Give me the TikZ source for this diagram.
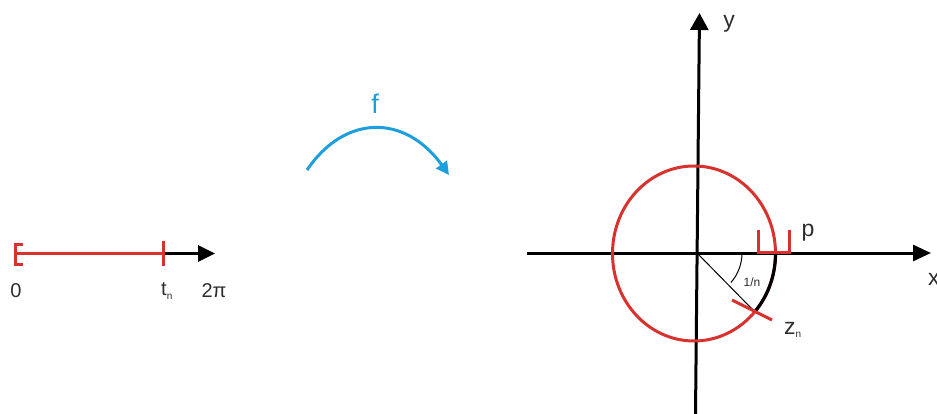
\documentclass[tikz,border=0pt]{standalone}
\usepackage{fontspec}
\setmainfont{Liberation Sans}
\usetikzlibrary{arrows.meta}
\definecolor{myred}{RGB}{215,50,45}
\definecolor{myblue}{RGB}{30,158,220}
\definecolor{txt}{RGB}{45,45,45}
\begin{document}
\begin{tikzpicture}[x=1pt,y=-1pt,
  axis/.style={line width=3pt,black,-{Triangle[length=17pt,width=16pt]}},
  redline/.style={line width=3pt,myred},
  lbl/.style={inner sep=0pt,text=txt,font=\fontsize{20}{20}\selectfont},
  big/.style={inner sep=0pt,text=txt,font=\fontsize{23}{23}\selectfont}]
\useasboundingbox (0,0) rectangle (937,414);
% left interval
\coordinate (a0) at (15,253.5);
\coordinate (tn) at (163,253.5);
\coordinate (ae) at (215,253.5);
\draw[axis] (tn) -- (ae);
\draw[redline] (a0) -- (tn);
\draw[redline] (23,244.5) -- (15,244.5) -- (15,264) -- (23,264);
\draw[redline] (163,241) -- (163,266);
\node[lbl] (l0) at (16,291) {0};
\node[lbl,anchor=west] (ltn) at (161,291) {t\raisebox{-0.3ex}{\fontsize{10}{10}\selectfont n}};
\node[lbl] (l2pi) at (214,291) {2π};
% map arrow
\coordinate (fs) at (307,170);
\coordinate (fe) at (449,175);
\draw[myblue,line width=3pt,-{Triangle[length=13pt,width=13pt]}] (fs) .. controls (345,114) and (405,114) .. (fe);
\node[inner sep=0pt,text=myblue,font=\fontsize{27}{27}\selectfont] (f) at (375,104) {f};
% axes
\coordinate (O) at (697,253);
\draw[axis,-{Triangle[length=17pt,width=18pt]}] (695.5,414) -- (699.5,13);
\draw[axis,-{Triangle[length=18pt,width=16pt]}] (527,253) -- (931,253);
\node[big] (ly) at (729,24) {y};
\node[big,anchor=west] (lx) at (928,279) {x};
% circle
\draw[myred,line width=3pt] (694,253.5) ellipse [x radius=81.5, y radius=87.5];
\draw[black,line width=3.2pt] (694,253.5) ++(0:81.5 and 87.5) arc [start angle=0,end angle=42,x radius=81.5,y radius=87.5];
% p marks
\draw[redline] (758.5,230) -- (758.5,252) -- (789.5,252) -- (789.5,230);
\node[big] (lp) at (808,233) {p};
% radius and angle
\coordinate (zn) at (755,312);
\draw[black,line width=1pt] (O) -- (zn);
\draw[black,line width=1pt] (O) ++(0:45) arc [start angle=0,end angle=41,radius=45];
\node[inner sep=0pt,text=txt,font=\fontsize{12}{12}\selectfont] (ln) at (752,282) {1/n};
\draw[redline] (732,300) -- (772,320);
\node[big,anchor=west] (lz) at (784,330) {z\raisebox{-0.3ex}{\fontsize{10}{10}\selectfont n}};
\end{tikzpicture}
\end{document}
